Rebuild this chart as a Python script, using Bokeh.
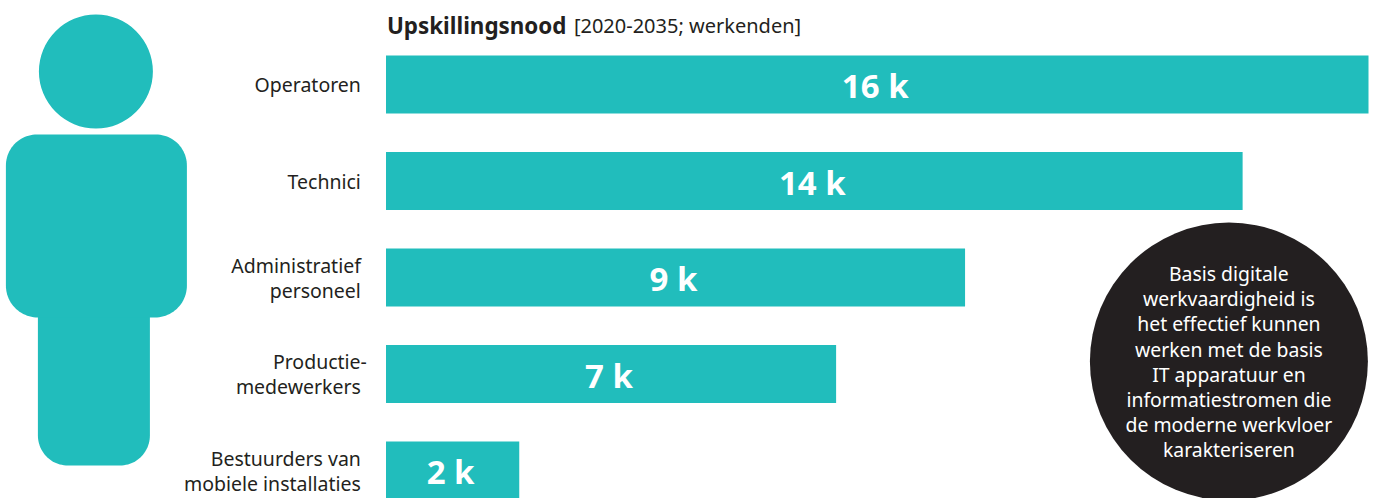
import numpy as np
from bokeh.core.properties import value
from bokeh.embed import file_html
from bokeh.models import ColumnDataSource, Range1d
from bokeh.plotting import figure
from bokeh.resources import INLINE

# Upskilling need per occupational group, thousands of workers
categories = [
    ["Operatoren"],
    ["Technici"],
    ["Administratief", "personeel"],
    ["Productie-", "medewerkers"],
    ["Bestuurders van", "mobiele installaties"],
]
needs = [16.0, 13.95, 9.43, 7.33, 2.17]
title_bold = "Upskillingsnood"
title_rest = "[2020-2035; werkenden]"
note_lines = [
    "Basis digitale",
    "werkvaardigheid is",
    "het effectief kunnen",
    "werken met de basis",
    "IT apparatuur en",
    "informatiestromen die",
    "de moderne werkvloer",
    "karakteriseren",
]

TEAL = "#21bdbc"
INK = "#231f20"
FONT = value("Noto Sans")
W, H = 1375, 498

# Bars live on a value scale; 0 sits at x=385.5 and 16 k at x=1368
ORIGIN = 385.5
PX_PER_K = (1368 - ORIGIN) / 16
ROW_PX = 96.5
p = figure(
    width=W, height=H, output_backend="svg", toolbar_location=None,
    x_range=Range1d(-ORIGIN / PX_PER_K, (W - ORIGIN) / PX_PER_K),
    y_range=Range1d((H - 84) / ROW_PX, -84 / ROW_PX),
    x_axis_location=None, y_axis_location=None, min_border=0,
    outline_line_color=None, background_fill_color="white",
)
p.grid.visible = False
# A second pair of ranges counted in page pixels for the pictogram and the text blocks
p.extra_x_ranges["px"] = Range1d(0.6, W + 0.6)
p.extra_y_ranges["px"] = Range1d(H, 0)
PX = dict(x_range_name="px", y_range_name="px")

rows = list(range(len(needs)))
src = ColumnDataSource(dict(
    y=rows, need=needs, mid=[v / 2 for v in needs],
    label=[f"{round(v)} k" for v in needs],
))
p.hbar(y="y", left=0, right="need", height=58 / ROW_PX, source=src,
       fill_color=TEAL, line_color=None)
p.text(x="mid", y="y", text="label", source=src, text_color="white",
       text_font=FONT, text_font_style="bold", text_font_size="33px",
       text_align="center", text_baseline="middle", x_offset=-2, y_offset=1)


def rounded(x0, x1, y0, y1, r_top, r_bottom):
    """Outline of a box in page pixels with rounded corners."""
    def arc(cx, cy, r, a0, a1):
        t = np.radians(np.linspace(a0, a1, 24))
        return cx + r * np.cos(t), cy + r * np.sin(t)
    parts = []
    if r_top:
        parts += [arc(x0 + r_top, y0 + r_top, r_top, 180, 270),
                  arc(x1 - r_top, y0 + r_top, r_top, 270, 360)]
    else:
        parts += [(np.array([x0, x1]), np.array([y0, y0]))]
    parts += [arc(x1 - r_bottom, y1 - r_bottom, r_bottom, 0, 90),
              arc(x0 + r_bottom, y1 - r_bottom, r_bottom, 90, 180)]
    return (np.concatenate([a for a, _ in parts]),
            np.concatenate([b for _, b in parts]))


# Person pictogram: head, torso, legs
p.scatter([96], [71], size=114, marker="circle", fill_color=TEAL, line_color=None, **PX)
for box in [(38, 150, 300, 465, 0, 30), (6, 187, 134, 317, 31, 32)]:
    xs, ys = rounded(*box)
    p.patch(xs, ys, fill_color=TEAL, line_color=None, **PX)

# Category labels, right aligned, one glyph per text line
LINE_PX = 25
lx, ly, lt = [], [], []
for i, lines in enumerate(categories):
    centre = 84 + ROW_PX * i
    for j, line in enumerate(lines):
        lx.append(367 if line.endswith("-") else 361)
        ly.append(centre + (j - (len(lines) - 1) / 2) * LINE_PX)
        lt.append(line)
p.text(lx, ly, text=lt, text_color=INK, text_font=FONT, text_font_size="19.5px",
       text_align="right", text_baseline="middle", **PX)

# Chart heading
p.text([387], [24.5], text=[title_bold], text_color=INK, text_font=FONT,
       text_font_style="bold", text_font_size="22.4px",
       text_align="left", text_baseline="middle", **PX)
p.text([574], [24.5], text=[title_rest], text_color=INK, text_font=FONT,
       text_font_size="20px", text_align="left", text_baseline="middle", **PX)

# Definition badge
p.scatter([1229], [361], size=278, marker="circle", fill_color=INK, line_color=None, **PX)
p.text([1229] * len(note_lines), [273 + 25.2 * k for k in range(len(note_lines))],
       text=note_lines, text_color="white", text_font=FONT, text_font_size="19.4px",
       text_align="center", text_baseline="middle", **PX)

open("out.html", "w").write(file_html(p, INLINE))
